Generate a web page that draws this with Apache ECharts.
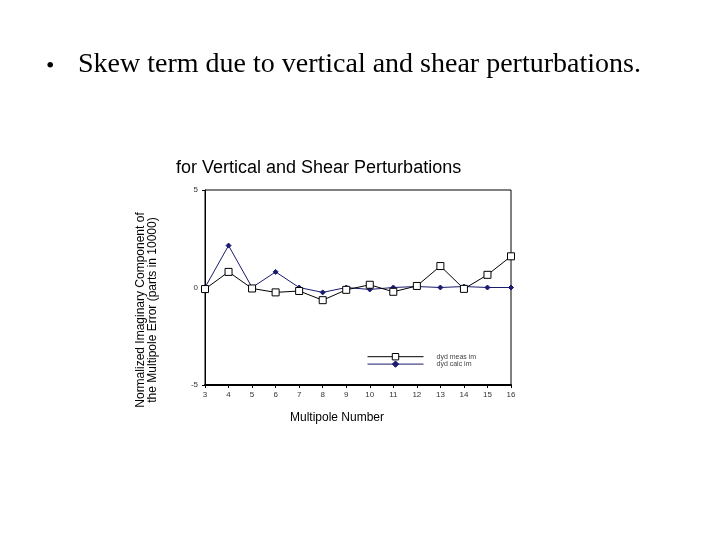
<!DOCTYPE html>
<html><head><meta charset="utf-8">
<script src="https://cdn.jsdelivr.net/npm/echarts@6/dist/echarts.min.js"></script>
<style>html,body{margin:0;padding:0;background:#fff}#c{width:720px;height:540px}</style>
</head><body><div id="c"></div>
<script>
const multipoles = [3,4,5,6,7,8,9,10,11,12,13,14,15,16];
const measIm = [-0.08,0.8,-0.05,-0.25,-0.18,-0.65,-0.12,0.14,-0.22,0.08,1.1,-0.07,0.65,1.6];
const calcIm = [0,2.15,0,0.8,0,-0.25,0,-0.1,0,0.05,0,0.05,0,0];
const seriesNames = ['dyd meas im','dyd calc im'];
const yTicks = [-5,0,5];

const chart = echarts.init(document.getElementById('c'));
const pair = (vals) => multipoles.map((m,i)=>[m, vals[i]]);
const sans = '"Liberation Sans", Arial, sans-serif';
chart.setOption({
  animation:false,
  backgroundColor:'#fff',
  graphic:[
    {type:'text',x:46,y:79,style:{text:'•',font:'24px "Liberation Serif", serif',fill:'#000',textVerticalAlign:'bottom'}},
    {type:'text',x:78,y:79,style:{text:'Skew term due to vertical and shear perturbations.',
      font:'28px "Liberation Serif", "Times New Roman", serif',fill:'#000',textVerticalAlign:'bottom'}},
    {type:'text',x:176,y:168,style:{text:'for Vertical and Shear Perturbations',font:'18px '+sans,fill:'#000',textVerticalAlign:'middle'}},
    {type:'text',x:141,y:310,rotation:Math.PI/2,style:{text:'Normalized Imaginary Component of',font:'12px '+sans,fill:'#000',textAlign:'center',textVerticalAlign:'middle'}},
    {type:'text',x:153,y:310,rotation:Math.PI/2,style:{text:'the Multipole Error (parts in 10000)',font:'12px '+sans,fill:'#000',textAlign:'center',textVerticalAlign:'middle'}},
    {type:'text',x:337,y:418,style:{text:'Multipole Number',font:'12px '+sans,fill:'#000',textAlign:'center',textVerticalAlign:'middle'}},
    {type:'rect',shape:{x:205,y:190,width:306,height:195},style:{fill:'none',stroke:'#000',lineWidth:1},z:-1}
  ],
  legend:{orient:'vertical',left:362,top:348,itemGap:0,itemWidth:56,itemHeight:8,
    lineStyle:{width:1},itemStyle:{borderWidth:1},
    textStyle:{fontFamily:sans,fontSize:7,color:'#444',padding:[0,0,0,8]},
    data:seriesNames},
  grid:{left:205,right:209,top:190,bottom:155},
  xAxis:{type:'value',min:3,max:16,interval:1,
    axisLine:{onZero:false,lineStyle:{color:'#000',width:2}},
    axisTick:{inside:false,length:3,lineStyle:{color:'#000'}},
    axisLabel:{fontFamily:sans,fontSize:8,color:'#333',margin:6},
    splitLine:{show:false}},
  yAxis:{type:'value',min:-5,max:5,interval:5,
    axisLine:{onZero:false,lineStyle:{color:'#000',width:1}},
    axisTick:{length:3,lineStyle:{color:'#000'}},
    axisLabel:{fontFamily:sans,fontSize:8,color:'#333',margin:7,
      formatter:(v)=>yTicks.includes(v)?String(v):''},
    splitLine:{show:false}},
  series:[
    {name:seriesNames[0],type:'line',data:pair(measIm),symbol:'rect',symbolSize:7,
      itemStyle:{color:'#fff',borderColor:'#000',borderWidth:1},
      lineStyle:{color:'#000',width:1},z:3},
    {name:seriesNames[1],type:'line',data:pair(calcIm),symbol:'diamond',symbolSize:5,
      itemStyle:{color:'#1a1a70',borderColor:'#1a1a70'},
      lineStyle:{color:'#1a1a70',width:1},z:2}
  ]
});
</script></body></html>
